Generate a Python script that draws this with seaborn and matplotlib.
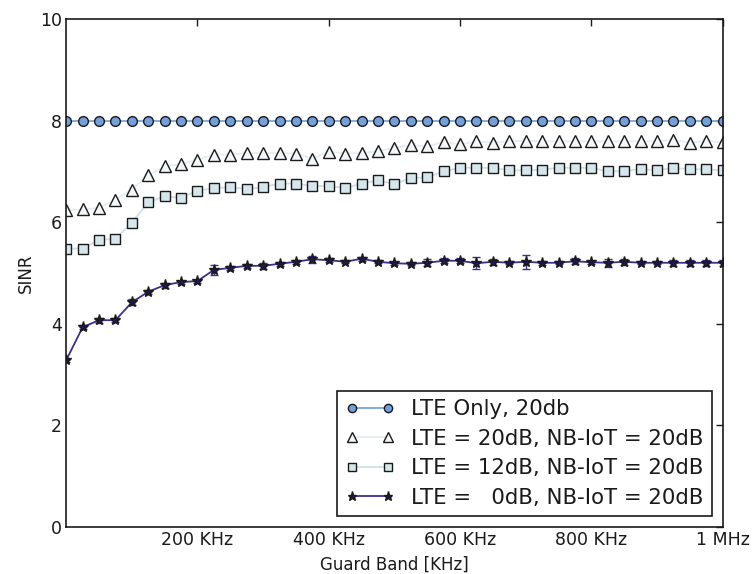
import numpy as np
import pandas as pd
import matplotlib
matplotlib.use("Agg")
import matplotlib.pyplot as plt
import seaborn as sns

sns.set_theme(style="white")
plt.rcParams['font.family'] = ['DejaVu Sans']
plt.rcParams['text.color'] = 'k'
plt.rcParams['axes.labelcolor'] = 'k'
plt.rcParams['xtick.color'] = 'k'
plt.rcParams['ytick.color'] = 'k'

# guard band in KHz, one point every 25 KHz
guard_khz = list(range(0, 1001, 25))

lte_only = [8.0] * 41
lte_only_err = [0, 0, 0, 0, 0, 0, 0, 0, 0, 0, 0.05, 0, 0, 0, 0, 0, 0, 0, 0, 0,
                0, 0, 0, 0.05, 0, 0, 0, 0, 0, 0, 0, 0, 0, 0, 0, 0, 0, 0, 0, 0, 0]

lte20 = [6.24, 6.25, 6.28, 6.44, 6.64, 6.92, 7.10, 7.14, 7.23, 7.33,
         7.33, 7.36, 7.36, 7.36, 7.35, 7.25, 7.39, 7.35, 7.36, 7.40,
         7.46, 7.52, 7.49, 7.58, 7.53, 7.59, 7.56, 7.59, 7.60, 7.59,
         7.59, 7.59, 7.59, 7.59, 7.59, 7.59, 7.59, 7.62, 7.56, 7.60, 7.57]
lte20_err = [0.03] * 41

lte12 = [5.48, 5.48, 5.65, 5.67, 5.99, 6.39, 6.51, 6.48, 6.62, 6.67,
         6.69, 6.65, 6.69, 6.76, 6.76, 6.71, 6.71, 6.67, 6.76, 6.82,
         6.75, 6.87, 6.88, 7.00, 7.07, 7.07, 7.07, 7.02, 7.02, 7.03,
         7.07, 7.07, 7.07, 7.00, 7.00, 7.05, 7.02, 7.07, 7.04, 7.04, 7.02]
lte12_err = [0.03, 0.03, 0.08, 0.03, 0.04, 0.03, 0.03, 0.03, 0.03, 0.03,
             0.03, 0.03, 0.03, 0.03, 0.03, 0.03, 0.03, 0.03, 0.03, 0.03,
             0.03, 0.03, 0.03, 0.03, 0.03, 0.03, 0.03, 0.03, 0.03, 0.03,
             0.03, 0.03, 0.03, 0.03, 0.03, 0.03, 0.03, 0.03, 0.03, 0.03, 0.03]

lte0 = [3.28, 3.93, 4.07, 4.07, 4.42, 4.63, 4.76, 4.82, 4.84, 5.06,
        5.10, 5.14, 5.14, 5.18, 5.22, 5.27, 5.25, 5.22, 5.28, 5.22,
        5.19, 5.18, 5.20, 5.24, 5.24, 5.19, 5.22, 5.20, 5.22, 5.20,
        5.20, 5.23, 5.21, 5.20, 5.22, 5.20, 5.20, 5.20, 5.20, 5.20, 5.20]
lte0_err = [0.03, 0.04, 0.05, 0.04, 0.06, 0.04, 0.05, 0.03, 0.03, 0.10,
            0.04, 0.04, 0.06, 0.04, 0.04, 0.07, 0.04, 0.03, 0.04, 0.03,
            0.03, 0.03, 0.07, 0.05, 0.05, 0.12, 0.06, 0.03, 0.14, 0.04,
            0.03, 0.06, 0.03, 0.08, 0.06, 0.03, 0.03, 0.06, 0.06, 0.06, 0.06]

labels = ["LTE Only, 20db",
          "LTE = 20dB, NB-IoT = 20dB",
          "LTE = 12dB, NB-IoT = 20dB",
          "LTE =   0dB, NB-IoT = 20dB"]

fig, ax = plt.subplots(figsize=(7.52, 5.74), dpi=100)
fig.subplots_adjust(left=0.088, right=0.961, top=0.967, bottom=0.082)

# (values, errors, line colour, marker face, marker, size)
series = [
    (lte_only, lte_only_err, "#7aa5df", "#73a0dc", "o", 7),
    (lte20, lte20_err, "#e4edf2", "#f3f7f9", "^", 8),
    (lte12, lte12_err, "#cde0e8", "#d5e6ec", "s", 7),
    (lte0, lte0_err, "#3b2f8c", "#1c1850", "*", 8),
]

for (vals, errs, lc, fc, mk, ms), lab in zip(series, labels):
    df = pd.DataFrame({"guard": guard_khz, "sinr": vals})
    ax.errorbar(guard_khz, vals, yerr=errs, fmt="none", ecolor=lc,
                capsize=3, elinewidth=1, zorder=1.5)
    sns.lineplot(data=df, x="guard", y="sinr", ax=ax, color=lc, marker=mk,
                 markersize=ms, markerfacecolor=fc, markeredgecolor="k",
                 markeredgewidth=1, linewidth=1.3, label=lab, errorbar=None)

ax.set_xlim(0, 1000)
ax.set_ylim(0, 10)
ax.set_xticks([200, 400, 600, 800, 1000])
ax.set_xticklabels(["200 KHz", "400 KHz", "600 KHz", "800 KHz", "1 MHz"])
ax.set_yticks([0, 2, 4, 6, 8, 10])
ax.tick_params(direction="in", top=True, right=True, length=5, width=1,
               labelsize=12.5, pad=3, colors="k")
for sp in ax.spines.values():
    sp.set_color("k")
    sp.set_linewidth(1.2)
ax.set_xlabel("Guard Band [KHz]", fontsize=12, labelpad=5)
ax.set_ylabel("SINR", fontsize=12, labelpad=4)

leg = ax.legend(loc="lower right", numpoints=2, fontsize=15.3, fancybox=False,
                framealpha=1, edgecolor="k", handlelength=2.3,
                handletextpad=0.8, borderaxespad=0.5, labelspacing=0.45,
                markerscale=0.85)
leg.get_frame().set_linewidth(1.2)
for t in leg.get_texts():
    t.set_color("k")

fig.savefig("out.png", dpi=100)
